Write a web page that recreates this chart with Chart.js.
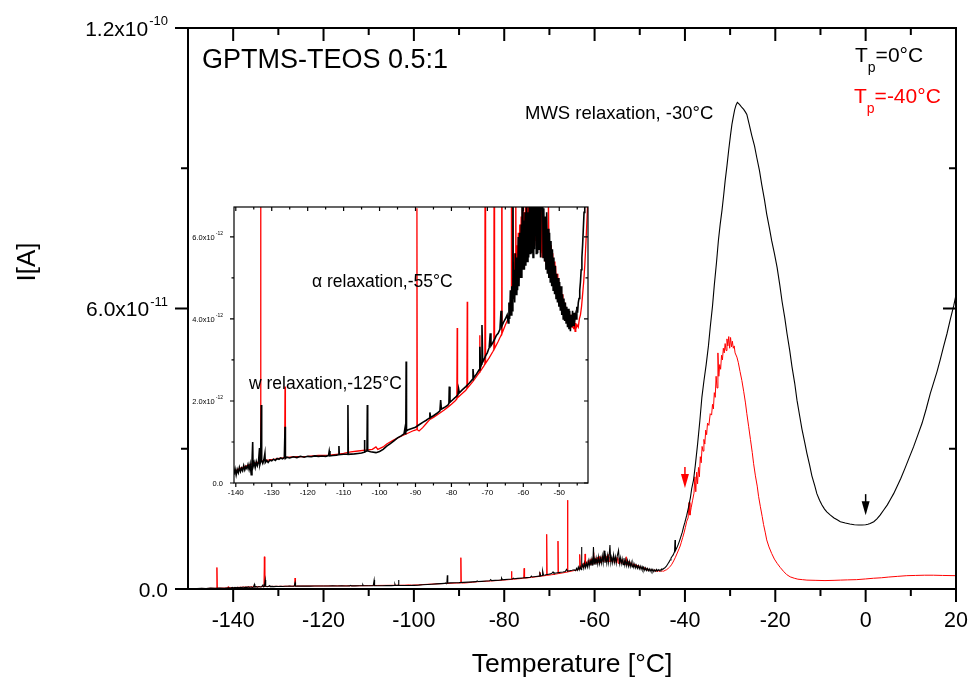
<!DOCTYPE html>
<html>
<head>
<meta charset="utf-8">
<script src="https://cdn.jsdelivr.net/npm/chart.js@4"></script>
<style>
body { margin: 0; background: #fff; }
#wrap { position: relative; width: 972px; height: 679px; }
#mainChart { position: absolute; left: 0; top: 0; }
#insetChart { position: absolute; left: 190px; top: 200px; background: #fff; }
</style>
</head>
<body>
<div id="wrap">
<canvas id="mainChart" width="972" height="679"></canvas>
<canvas id="insetChart" width="402" height="298"></canvas>
</div>
<script>
// [temperature in °C, current in pA (1e-12 A)]
var blackTp0 = [
  [-150,0.05],[-149,0.12],[-148,0.08],[-147,0.15],[-146,0.1],[-145,0.18],[-144,0.14],[-143,0.2],[-142,0.17],[-141,0.24],
  [-140.5,0.22],[-140.2,0.34],[-139.9,0.2],[-139.6,0.33],[-139.3,0.25],[-139,0.38],[-138.7,0.28],[-138.4,0.36],[-138.1,0.3],
  [-137.8,0.42],[-137.5,0.32],[-137.2,0.4],[-136.9,0.35],[-136.6,0.45],[-136.3,0.33],[-136,0.46],[-135.7,0.2],[-135.5,0.48],
  [-135.3,1.0],[-135.2,0.4],[-134.9,0.5],[-134.6,0.38],[-134.3,0.52],[-134,0.42],[-133.7,0.5],[-133.4,0.85],[-133.3,0.45],
  [-133.1,0.52],[-132.9,1.9],[-132.8,0.55],[-132.5,0.48],[-132.2,0.56],[-131.9,0.72],[-131.8,0.5],[-131.4,0.55],[-131,0.5],
  [-130.5,0.56],[-130,0.54],[-129.5,0.58],[-129,0.55],[-128.5,0.6],[-128,0.58],[-127.5,0.61],[-127,0.59],[-126.5,0.62],
  [-126.3,1.37],[-126.2,0.6],[-125.8,0.63],[-125,0.61],[-124,0.64],[-123,0.62],[-122,0.65],[-121,0.63],[-120,0.65],
  [-119,0.64],[-118,0.66],[-117,0.65],[-116,0.66],[-115,0.65],[-114.2,0.67],[-114,0.78],[-113.8,0.66],[-113,0.67],
  [-112,0.68],[-111.4,0.69],[-111.3,0.9],[-111.2,0.69],[-110,0.7],[-109,0.7],[-108.8,1.9],[-108.7,0.7],[-107,0.71],
  [-106,0.72],[-105,0.73],[-104.3,0.75],[-104.2,1.05],[-104.1,0.76],[-103.5,0.78],[-103.4,1.9],[-103.3,0.78],[-102.5,0.76],
  [-101,0.74],[-100,0.77],[-99,0.82],[-98,0.9],[-97,0.96],[-96,1.03],[-95,1.1],[-94,1.15],[-93.2,1.2],[-93,1.3],[-92.9,1.2],
  [-92.7,1.25],[-92.6,2.96],[-92.5,1.27],[-92,1.3],[-91,1.33],[-90,1.36],[-89,1.42],[-88,1.48],[-87,1.53],[-86.2,1.58],
  [-86,1.72],[-85.8,1.6],[-85,1.64],[-84,1.7],[-83.2,1.76],[-83,2.02],[-82.8,1.8],[-82,1.84],[-81,1.9],[-80.7,1.94],
  [-80.6,2.35],[-80.4,1.97],[-80,2.0],[-79,2.08],[-78.2,2.15],[-78,2.3],[-77.8,2.2],[-77,2.27],[-76,2.35],[-75,2.44],
  [-74.2,2.52],[-74,2.78],[-73.8,2.56],[-73,2.66],[-72.3,2.76],[-72.1,3.32],[-71.9,2.82],[-71.6,2.9],[-71.5,3.85],
  [-71.3,2.95],[-71,3.0],[-70.5,3.1],[-70,3.18],[-69.5,3.3],[-69.2,3.65],[-69,3.35],[-68.5,3.42],[-68,3.5],[-67.5,3.6],
  [-67,3.65],[-66.5,3.75],[-66.2,4.2],[-66,3.82],[-65.5,3.92],[-65,4.0],[-64.5,4.1],
  [-64.2,3.9],[-64,4.4],[-63.8,4.0],[-63.6,4.7],[-63.4,4.1],[-63.2,4.8],[-63.0,4.2],[-62.9,9.0],[-62.8,4.5],[-62.6,5.2],
  [-62.4,4.4],[-62.2,5.6],[-62.0,4.6],[-61.8,5.5],[-61.6,4.7],[-61.4,6.0],[-61.2,4.8],[-61.0,6.1],[-60.8,5.0],[-60.6,6.3],
  [-60.4,5.0],[-60.25,9.0],[-60.1,5.2],[-59.9,6.4],[-59.7,5.2],[-59.5,6.6],[-59.3,5.3],[-59.1,6.9],[-58.9,5.4],[-58.7,6.6],
  [-58.5,5.5],[-58.3,7.1],[-58.1,5.6],[-57.9,8.2],[-57.7,5.6],[-57.5,6.9],[-57.3,5.5],[-57.1,7.2],[-56.9,5.7],[-56.6,9.4],
  [-56.4,5.6],[-56.2,6.8],[-56.0,5.6],[-55.8,7.3],[-55.6,5.7],[-55.4,6.9],[-55.2,5.5],[-55.0,7.0],[-54.7,8.3],[-54.5,5.5],
  [-54.3,6.7],[-54.1,5.4],[-53.9,6.5],[-53.7,5.2],[-53.5,6.6],[-53.3,5.1],[-53.1,6.2],[-52.9,5.0],[-52.7,6.1],[-52.5,4.9],
  [-52.3,5.9],[-52.1,4.8],[-51.9,5.7],[-51.7,4.7],[-51.5,5.5],[-51.3,4.6],[-51.1,5.3],[-50.9,4.5],[-50.7,5.1],[-50.5,4.4],
  [-50.3,5.0],[-50.1,4.3],[-49.9,4.9],[-49.7,4.2],[-49.5,4.8],[-49.3,4.1],[-49.1,4.6],[-48.9,4.0],[-48.7,4.5],[-48.5,3.95],
  [-48.3,4.4],[-48.1,3.9],[-47.9,4.3],[-47.7,3.8],[-47.5,4.25],[-47.3,3.75],[-47.1,4.2],[-46.9,3.7],[-46.7,4.1],[-46.5,3.8],
  [-46.3,4.2],[-46.1,3.85],[-45.9,4.15],[-45.7,3.95],[-45.5,4.1],[-45.3,4.0],[-45.1,4.3],[-44.9,4.15],[-44.7,4.4],[-44.5,4.5],
  [-44.3,4.7],[-44.1,4.9],[-43.9,5.2],[-43.7,5.5],[-43.5,5.8],[-43.3,6.2],[-43.1,6.6],[-42.9,6.9],[-42.6,7.3],[-42.3,8.0],
  [-42.2,10.5],[-42.1,8.2],[-41.8,8.8],[-41.5,9.5],[-41.2,10.3],[-40.9,11.2],[-40.6,12.1],[-40.3,13.3],[-40.0,14.3],
  [-39.6,15.8],[-39.2,17.5],[-38.8,19.5],[-38.5,21.5],[-38.1,23.3],[-37.7,26.5],[-37.2,31],[-36.7,36],[-36.25,41],
  [-35.8,44.5],[-35.3,48],[-34.8,52],[-34.4,56],[-33.9,60.5],[-33.5,65],[-33.0,70],[-32.6,74.5],[-32.2,78],[-31.8,81],
  [-31.4,84.5],[-31.1,87.3],[-30.7,90.5],[-30.3,94],[-29.9,97.2],[-29.6,99.4],[-29.3,101],[-29.0,102.5],[-28.7,103.5],
  [-28.4,104.1],[-28.1,103.8],[-27.8,103.5],[-27.4,103],[-27.0,102.6],[-26.6,102],[-26.3,101.5],[-25.8,99.5],[-25.2,97],
  [-24.6,94.8],[-24.1,92.3],[-23.5,89.5],[-23.0,86.5],[-22.4,83.3],[-21.9,80.2],[-21.3,77.2],[-20.8,74.5],[-20.2,71.8],
  [-19.6,68.8],[-19.0,65],[-18.5,61.5],[-17.9,58],[-17.4,54.6],[-16.8,51],[-16.3,47.5],[-15.7,44],[-15.2,40.4],[-14.6,37],
  [-14.1,34.2],[-13.5,31.4],[-13.0,29],[-12.4,26.5],[-11.9,24.2],[-11.3,22.2],[-10.8,20.4],[-10.2,19],[-9.7,18],[-9.1,17.1],
  [-8.6,16.5],[-7.8,15.8],[-7.0,15.2],[-6.3,14.8],[-5.6,14.4],[-4.5,14.1],[-3.5,13.9],[-2.5,13.75],[-1.6,13.7],[-0.8,13.7],
  [0,13.75],[0.5,13.85],[1.0,14.0],[1.8,14.4],[2.5,15.0],[3.2,15.8],[4.0,16.9],[4.8,18.0],[5.5,19.2],[6.2,20.4],[6.9,21.8],
  [7.8,23.7],[8.7,25.8],[9.6,28],[10.6,30.4],[11.5,32.8],[12.5,35.5],[13.4,38.5],[14.3,41.8],[15.0,44],[15.8,46.5],[16.5,49],
  [17.2,51.7],[18.0,54.6],[18.7,57.5],[19.5,60.6],[20.2,63.8]
];

var redTp40 = [
  [-150,0.05],[-149,0.1],[-148,0.06],[-147,0.12],[-146,0.1],[-145,0.15],[-144,0.14],[-143.7,0.16],[-143.6,4.6],[-143.5,0.17],
  [-143,0.18],[-142,0.2],[-141.2,0.22],[-141.1,0.5],[-141,0.23],[-140.5,0.28],[-140,0.3],[-139.5,0.32],[-139,0.35],
  [-138,0.38],[-137,0.42],[-136,0.45],[-135,0.48],[-134,0.5],[-133.2,0.52],[-133.1,6.9],[-133.0,0.53],[-132,0.55],
  [-131,0.56],[-130,0.57],[-129,0.58],[-128,0.6],[-127,0.61],[-126.4,0.62],[-126.3,2.35],[-126.2,0.62],[-125,0.63],
  [-123,0.64],[-120,0.65],[-117,0.67],[-114,0.68],[-112,0.7],[-110,0.72],[-108,0.76],[-106,0.78],[-104,0.8],[-102,0.82],
  [-101,0.88],[-100.5,0.82],[-99,0.88],[-98,0.95],[-96,1.05],[-94,1.14],[-92,1.22],[-90.5,1.28],[-89.7,1.3],[-89.6,6.7],
  [-89.5,1.3],[-89,1.27],[-88,1.35],[-87,1.45],[-86,1.55],[-85,1.6],[-84,1.66],[-83,1.72],[-82,1.78],[-81,1.85],[-80,1.92],
  [-79,2.0],[-78.5,2.05],[-78.4,3.78],[-78.3,2.08],[-77,2.18],[-76,2.26],[-75.7,2.3],[-75.6,4.42],[-75.5,2.32],[-74,2.48],
  [-73,2.6],[-72.2,2.7],[-72.1,3.6],[-72.0,2.72],[-71,2.85],[-70.7,2.9],[-70.6,11.7],[-70.5,2.92],[-69.5,3.05],[-68.5,3.2],
  [-68.2,3.25],[-68.1,10.25],[-68.0,3.28],[-67,3.45],[-66.1,3.62],[-66.0,19.0],[-65.9,3.65],[-65,3.85],[-64,4.05],
  [-63.4,4.3],[-63.3,7.4],[-63.1,4.4],
  [-62.8,5.0],[-62.6,4.6],[-62.4,5.6],[-62.2,4.8],[-62.1,7.5],[-62.0,4.9],[-61.8,5.8],[-61.6,5.0],[-61.4,6.1],[-61.2,5.1],
  [-61.0,6.3],[-60.8,5.2],[-60.6,6.5],[-60.4,5.3],[-60.2,7.8],[-60.0,5.4],[-59.8,6.6],[-59.6,5.5],[-59.4,6.8],[-59.2,5.6],
  [-59.0,7.0],[-58.8,5.7],[-58.6,6.9],[-58.4,5.8],[-58.2,7.1],[-58.0,5.8],[-57.8,6.8],[-57.6,5.9],[-57.4,7.0],[-57.2,5.8],
  [-57.0,7.4],[-56.8,5.9],[-56.6,6.9],[-56.4,5.8],[-56.2,6.7],[-56.0,5.7],[-55.8,6.9],[-55.6,5.7],[-55.4,6.6],[-55.2,5.6],
  [-55.0,6.8],[-54.8,5.5],[-54.6,6.5],[-54.4,5.5],[-54.2,6.4],[-54.0,5.4],[-53.8,6.3],[-53.6,5.3],[-53.4,6.1],[-53.2,5.2],
  [-53.0,6.9],[-52.8,5.1],[-52.6,5.9],[-52.4,5.0],[-52.2,5.8],[-52.0,4.9],[-51.8,5.6],[-51.6,4.8],[-51.4,5.4],[-51.2,4.7],
  [-51.0,5.3],[-50.8,4.6],[-50.6,5.1],[-50.4,4.5],[-50.2,5.0],[-50.0,4.4],[-49.8,4.8],[-49.6,4.3],[-49.4,4.7],[-49.2,4.2],
  [-49.0,4.6],[-48.8,4.1],[-48.6,4.4],[-48.4,4.0],[-48.2,4.3],[-48.0,3.95],[-47.8,4.2],[-47.6,3.9],[-47.4,4.15],[-47.2,3.85],
  [-47.0,4.1],[-46.8,3.8],[-46.6,4.1],[-46.4,3.8],[-46.2,4.0],[-46.0,3.75],[-45.8,4.0],[-45.6,3.7],[-45.4,3.9],[-45.2,3.8],
  [-45.0,3.85],[-44.7,3.8],[-44.4,4.0],[-44.1,4.1],[-43.8,4.3],[-43.5,4.6],[-43.2,4.9],[-42.9,5.3],[-42.5,6.0],[-42.1,6.8],
  [-41.7,7.7],[-41.3,8.6],[-41.05,9.2],[-40.8,10.0],[-40.5,11.0],[-40.2,12.0],[-39.9,13.2],[-39.6,14.5],[-39.3,15.2],
  [-39.1,18.5],[-38.9,15.8],[-38.6,17.5],[-38.3,19.0],[-38.0,20.5],[-37.8,24],[-37.6,20.8],[-37.4,25],[-37.2,22.5],[-37.0,26],
  [-36.8,24],[-36.6,28.3],[-36.4,27],[-36.2,30.5],[-36.0,29.5],[-35.8,32],[-35.6,31],[-35.4,34],[-35.2,33],[-35.0,35.5],
  [-34.7,35],[-34.4,37.5],[-34.1,37.2],[-33.9,39.5],[-33.7,38.5],[-33.5,42],[-33.3,41],[-33.1,45.5],[-32.9,43],[-32.7,50.5],
  [-32.5,45.5],[-32.3,48],[-32.1,47],[-31.9,50],[-31.7,49],[-31.5,51.5],[-31.3,50.5],[-31.1,52.5],[-30.9,51],[-30.7,53.5],
  [-30.5,52],[-30.3,54],[-30.1,51.5],[-29.9,53.8],[-29.7,51.8],[-29.5,53],[-29.3,51.5],[-29.1,52],[-28.9,50.5],[-28.7,50.5],
  [-28.5,49.6],[-28.2,48.5],[-27.8,46.5],[-27.4,44.6],[-27.0,42.3],[-26.6,39.8],[-26.3,37.5],[-25.9,34.8],[-25.5,32],
  [-25.1,29.2],[-24.8,26.8],[-24.4,24.2],[-24.0,22],[-23.7,19.8],[-23.3,17.6],[-22.9,15.5],[-22.6,13.8],[-22.2,12],
  [-21.9,10.5],[-21.4,9],[-20.8,7.6],[-20.2,6.4],[-19.6,5.5],[-18.9,4.6],[-18.2,3.8],[-17.5,3.1],[-16.7,2.6],[-15.8,2.3],
  [-15.0,2.1],[-14,2.0],[-13,1.9],[-11,1.85],[-9,1.8],[-7,1.85],[-5.6,1.9],[-4,1.95],[-2,2.0],[0,2.15],[1.75,2.3],[3.5,2.4],
  [5,2.55],[7,2.7],[9.1,2.85],[11,2.9],[13,2.95],[15,2.95],[17,2.9],[20,2.85]
];

// axis ticks
var mainXTicks = [-140, -120, -100, -80, -60, -40, -20, 0, 20];
var mainXMinor = [-130, -110, -90, -70, -50, -30, -10, 10];
var mainYTicks = [0, 60, 120];
var mainYMinor = [30, 90];
var mainYLabels = [["0.0", ""], ["6.0x10", "-11"], ["1.2x10", "-10"]];

var insetXTicks = [-140, -130, -120, -110, -100, -90, -80, -70, -60, -50];
var insetXMinor = [-135, -125, -115, -105, -95, -85, -75, -65, -55, -45];
var insetYTicks = [0, 2, 4, 6];
var insetYMinor = [1, 3, 5];
var insetYLabels = [["0.0", ""], ["2.0x10", "-12"], ["4.0x10", "-12"], ["6.0x10", "-12"]];

var FONT = "Arial, 'Liberation Sans', Helvetica, sans-serif";
Chart.defaults.font.family = FONT;
Chart.defaults.color = "#000";

function toXY(pts) {
  return pts.map(function(p) { return { x: p[0], y: p[1] }; });
}

// frame, tick marks (outward left/bottom, inward top/right) and y labels with exponents
function drawFrame(chart, o) {
  var ctx = chart.ctx, a = chart.chartArea;
  var xs = chart.scales.x, ys = chart.scales.y;
  ctx.save();
  ctx.strokeStyle = "#000";
  ctx.lineWidth = o.lw;
  ctx.beginPath();
  function xt(v, len) {
    var px = xs.getPixelForValue(v);
    ctx.moveTo(px, a.bottom); ctx.lineTo(px, a.bottom + len);
    ctx.moveTo(px, a.top); ctx.lineTo(px, a.top + len);
  }
  function yt(v, len) {
    var py = ys.getPixelForValue(v);
    ctx.moveTo(a.left, py); ctx.lineTo(a.left - len, py);
    ctx.moveTo(a.right, py); ctx.lineTo(a.right - len, py);
  }
  o.xMajor.forEach(function(v) { xt(v, o.major); });
  o.xMinor.forEach(function(v) { xt(v, o.minor); });
  o.yMajor.forEach(function(v) { yt(v, o.major); });
  o.yMinor.forEach(function(v) { yt(v, o.minor); });
  ctx.stroke();
  ctx.strokeRect(a.left, a.top, a.right - a.left, a.bottom - a.top);

  ctx.fillStyle = "#000";
  ctx.textAlign = "right";
  ctx.textBaseline = "alphabetic";
  o.yLabels.forEach(function(l, i) {
    var py = ys.getPixelForValue(o.yMajor[i]);
    ctx.font = o.expFont;
    var ew = ctx.measureText(l[1]).width;
    if (l[1]) ctx.fillText(l[1], o.labelRight, py + o.expDy);
    ctx.font = o.baseFont;
    ctx.fillText(l[0], o.labelRight - ew - (l[1] ? 1 : 0), py + o.baseDy);
  });
  ctx.restore();
}

function subText(ctx, x, y, main, sub, rest, size, subSize, color) {
  ctx.fillStyle = color;
  ctx.textAlign = "left";
  ctx.textBaseline = "alphabetic";
  ctx.font = size + "px " + FONT;
  ctx.fillText(main, x, y);
  x += ctx.measureText(main).width;
  ctx.font = subSize + "px " + FONT;
  ctx.fillText(sub, x, y + 10);
  x += ctx.measureText(sub).width;
  ctx.font = size + "px " + FONT;
  ctx.fillText(rest, x, y);
}

function arrow(ctx, x, tipY, color) {
  ctx.fillStyle = color;
  ctx.strokeStyle = color;
  ctx.lineWidth = 1.5;
  ctx.beginPath();
  ctx.moveTo(x, tipY - 21); ctx.lineTo(x, tipY - 12);
  ctx.stroke();
  ctx.beginPath();
  ctx.moveTo(x - 4, tipY - 14); ctx.lineTo(x + 4, tipY - 14); ctx.lineTo(x, tipY);
  ctx.closePath();
  ctx.fill();
}

var mainDecor = {
  id: "mainDecor",
  afterDraw: function(chart) {
    var ctx = chart.ctx, xs = chart.scales.x, ys = chart.scales.y, a = chart.chartArea;
    drawFrame(chart, {
      lw: 2, major: 13, minor: 7,
      xMajor: mainXTicks, xMinor: mainXMinor, yMajor: mainYTicks, yMinor: mainYMinor,
      yLabels: mainYLabels, labelRight: 168,
      baseFont: "21px " + FONT, baseDy: 7.5, expFont: "13px " + FONT, expDy: -3
    });
    ctx.save();
    ctx.fillStyle = "#000";
    ctx.textAlign = "left";
    ctx.textBaseline = "alphabetic";
    ctx.font = "27px " + FONT;
    ctx.fillText("GPTMS-TEOS 0.5:1", 202, 68);
    ctx.font = "18.5px " + FONT;
    ctx.fillText("MWS relaxation, -30°C", 525, 119);
    subText(ctx, 855, 62, "T", "p", "=0°C", 21, 14, "#000");
    subText(ctx, 854, 103, "T", "p", "=-40°C", 21, 14, "#ff0000");

    arrow(ctx, xs.getPixelForValue(-40), ys.getPixelForValue(21.6), "#ff0000");
    arrow(ctx, xs.getPixelForValue(0), ys.getPixelForValue(15.8), "#000");

    // axis titles
    ctx.fillStyle = "#000";
    ctx.font = "26.5px " + FONT;
    ctx.textAlign = "center";
    ctx.fillText("Temperature [°C]", (a.left + a.right) / 2, 672);
    ctx.translate(35, 262);
    ctx.rotate(-Math.PI / 2);
    ctx.font = "26px " + FONT;
    ctx.fillText("I[A]", 0, 0);
    ctx.restore();
  }
};

var insetDecor = {
  id: "insetDecor",
  afterDraw: function(chart) {
    var ctx = chart.ctx;
    drawFrame(chart, {
      lw: 1.2, major: 4, minor: 2.5,
      xMajor: insetXTicks, xMinor: insetXMinor, yMajor: insetYTicks, yMinor: insetYMinor,
      yLabels: insetYLabels, labelRight: 33,
      baseFont: "7.5px " + FONT, baseDy: 2.7, expFont: "5px " + FONT, expDy: -1.5
    });
    ctx.save();
    ctx.fillStyle = "#000";
    ctx.textAlign = "left";
    ctx.textBaseline = "alphabetic";
    ctx.font = "17.5px " + FONT;
    ctx.fillText("α relaxation,-55°C", 122, 87);
    ctx.fillText("w relaxation,-125°C", 59, 189);
    ctx.restore();
  }
};

function makeChart(id, o) {
  return new Chart(document.getElementById(id), {
    type: "line",
    data: {
      datasets: [
        { label: "Tp=0°C", data: toXY(blackTp0), borderColor: "#000000", borderWidth: o.bw[0],
          pointRadius: 0, tension: 0, fill: false },
        { label: "Tp=-40°C", data: toXY(redTp40), borderColor: "#ff0000", borderWidth: o.bw[1],
          pointRadius: 0, tension: 0, fill: false }
      ]
    },
    options: {
      responsive: false,
      animation: false,
      devicePixelRatio: 1,
      layout: { padding: { top: o.padTop, right: o.padRight, left: 0, bottom: 0 } },
      plugins: { legend: { display: false }, tooltip: { enabled: false } },
      scales: {
        x: {
          type: "linear", min: o.xMin, max: o.xMax,
          grid: { display: false, drawTicks: false }, border: { display: false },
          ticks: { color: "#000", font: { size: o.tickSize }, padding: o.tickPad, maxRotation: 0, autoSkip: false },
          afterBuildTicks: function(s) { s.ticks = o.xTicks.map(function(v) { return { value: v }; }); },
          afterFit: function(s) {
            s.height = o.xHeight;
            s.paddingLeft = 0;
            s.paddingRight = 0;
          }
        },
        y: {
          type: "linear", min: 0, max: o.yMax,
          grid: { display: false, drawTicks: false }, border: { display: false },
          ticks: { display: false },
          afterFit: function(s) {
            s.width = o.yWidth;
            s.paddingTop = 0;
            s.paddingBottom = 0;
          }
        }
      }
    },
    plugins: [o.decor]
  });
}

makeChart("mainChart", {
  bw: [1.1, 1], padTop: 28, padRight: 16, xMin: -150, xMax: 20, yMax: 120,
  tickSize: 21.5, tickPad: 19, xTicks: mainXTicks, xHeight: 90, yWidth: 188, decor: mainDecor
});

makeChart("insetChart", {
  bw: [1.6, 1.3], padTop: 7, padRight: 4, xMin: -140.5, xMax: -42, yMax: 6.73,
  tickSize: 8, tickPad: 5, xTicks: insetXTicks, xHeight: 15, yWidth: 44, decor: insetDecor
});
</script>
</body>
</html>
